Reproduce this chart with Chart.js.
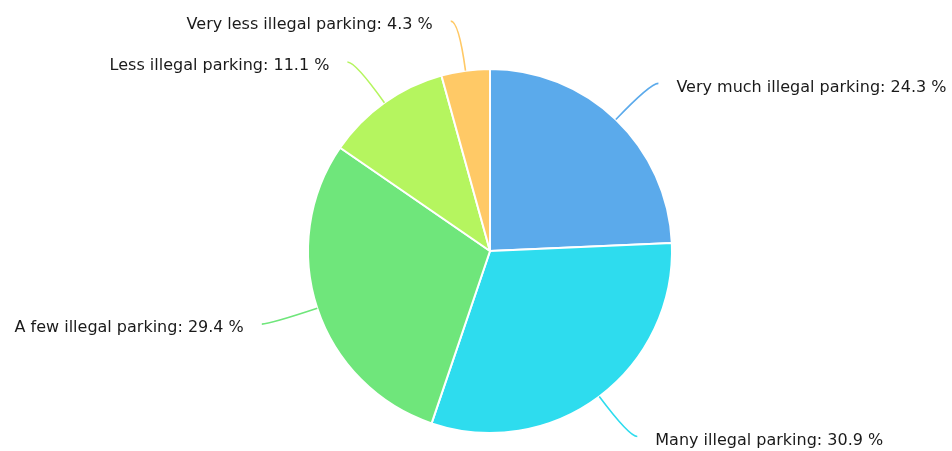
<!DOCTYPE html>
<html>
<head>
<meta charset="utf-8">
<script src="https://cdn.jsdelivr.net/npm/chart.js@4/dist/chart.umd.min.js"></script>
<style>
  html, body { margin:0; padding:0; background:#fff; }
  #wrap { width:952px; height:451px; position:relative; }
</style>
</head>
<body>
<div id="wrap"><canvas id="pie"></canvas></div>
<script>
// ---- data ----
const categories = [
  'Very much illegal parking',
  'Many illegal parking',
  'A few illegal parking',
  'Less illegal parking',
  'Very less illegal parking'
];
const shares = [24.3, 30.9, 29.4, 11.1, 4.3];
const sliceColors = ['#5BAAEB', '#2EDCEE', '#6FE67B', '#B5F55F', '#FFC966'];

// ---- leader lines + labels drawn outside the pie ----
const outsideLabels = {
  id: 'outsideLabels',
  afterDatasetsDraw(chart) {
    const ctx = chart.ctx;
    const meta = chart.getDatasetMeta(0);
    ctx.save();
    ctx.font = '16px "DejaVu Sans", Verdana, sans-serif';
    ctx.textBaseline = 'middle';
    meta.data.forEach((arc, i) => {
      const p = arc.getProps(['x','y','startAngle','endAngle','outerRadius'], true);
      const mid = (p.startAngle + p.endAngle) / 2;
      const c = Math.cos(mid), s = Math.sin(mid);
      const side = c >= 0 ? 1 : -1;
      // start on the rim, bend out radially, finish with a short flat tail
      const sx = p.x + p.outerRadius * c, sy = p.y + p.outerRadius * s;
      const bx = p.x + (p.outerRadius + 50) * c, by = p.y + (p.outerRadius + 50) * s;
      const ex = bx + 8 * side, ey = by;
      ctx.strokeStyle = sliceColors[i];
      ctx.lineWidth = 1.6;
      ctx.beginPath();
      ctx.moveTo(sx, sy);
      ctx.quadraticCurveTo(bx, by, ex, ey);
      ctx.stroke();
      ctx.fillStyle = '#1a1a1a';
      ctx.textAlign = side > 0 ? 'left' : 'right';
      ctx.fillText(categories[i] + ': ' + shares[i].toFixed(1) + ' %', ex + 18 * side, ey + 4);
    });
    ctx.restore();
  }
};

new Chart(document.getElementById('pie'), {
  type: 'pie',
  data: {
    labels: categories,
    datasets: [{
      data: shares,
      backgroundColor: sliceColors,
      borderColor: '#fff',
      borderWidth: 2
    }]
  },
  options: {
    responsive: true,
    maintainAspectRatio: false,
    animation: false,
    layout: { padding: { top: 68, bottom: 17, left: 307, right: 279 } },
    plugins: { legend: { display: false }, tooltip: { enabled: false } }
  },
  plugins: [outsideLabels]
});
</script>
</body>
</html>
